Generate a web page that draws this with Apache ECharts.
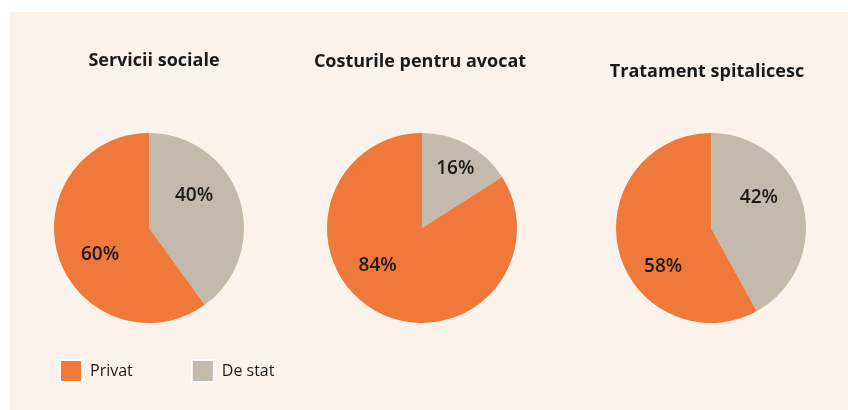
<!DOCTYPE html>
<html>
<head>
<meta charset="utf-8">
<script src="https://cdn.jsdelivr.net/npm/echarts@6/dist/echarts.min.js"></script>
<style>
  html, body { margin: 0; padding: 0; background: #fff; }
  .panel { position: absolute; left: 10px; top: 12px; width: 838px; height: 398px; background: #fcf2ec; }
  #chart { position: absolute; left: 0; top: 0; width: 848px; height: 410px; }
</style>
</head>
<body>
<div class="panel"></div>
<div id="chart"></div>
<script>
  const titles = ['Servicii sociale', 'Costurile pentru avocat', 'Tratament spitalicesc']
  const names = ['De stat', 'Privat']
  const stateShare = [40, 16, 42]
  const privateShare = [60, 84, 58]

  const colors = { 'Privat': '#ef793b', 'De stat': '#c3b9ac' }
  const centersX = [149, 422, 711]
  const titleX = [149, 415, 702]
  const titleY = [47, 48, 58]
  // label nudges so the percentages sit where the original put them
  const stateOffset = [[-3, -17], [9, -15], [-1, -18]]
  const privateOffset = [[-1, 11], [-20, -7], [1, 26]]

  const chart = echarts.init(document.getElementById('chart'))

  chart.setOption({
    textStyle: { fontFamily: 'Open Sans' },
    title: titles.map((t, i) => ({
      text: t,
      left: titleX[i],
      top: titleY[i],
      textAlign: 'center',
      textStyle: { fontSize: 18, fontWeight: 'bold', color: '#1a1a1a', fontFamily: 'Open Sans' }
    })),
    legend: {
      data: ['Privat', 'De stat'],
      left: 54,
      top: 354,
      itemWidth: 22,
      itemHeight: 22,
      itemGap: 58,
      icon: 'rect',
      itemStyle: { borderColor: '#fff', borderWidth: 2 },
      textStyle: { fontSize: 16, color: '#1a1a1a', padding: [0, 0, 0, 3] }
    },
    series: titles.map((t, i) => ({
      name: t,
      type: 'pie',
      center: [centersX[i], 228],
      radius: 95,
      startAngle: 90,
      clockwise: true,
      silent: true,
      label: {
        show: true,
        position: 'inside',
        formatter: '{c}%',
        fontSize: 19,
        fontWeight: 600,
        color: '#1a1a1a'
      },
      labelLine: { show: false },
      itemStyle: { borderWidth: 0 },
      data: [
        { name: names[0], value: stateShare[i], itemStyle: { color: colors['De stat'] }, label: { offset: stateOffset[i] } },
        { name: names[1], value: privateShare[i], itemStyle: { color: colors['Privat'] }, label: { offset: privateOffset[i] } }
      ]
    }))
  })
</script>
</body>
</html>
